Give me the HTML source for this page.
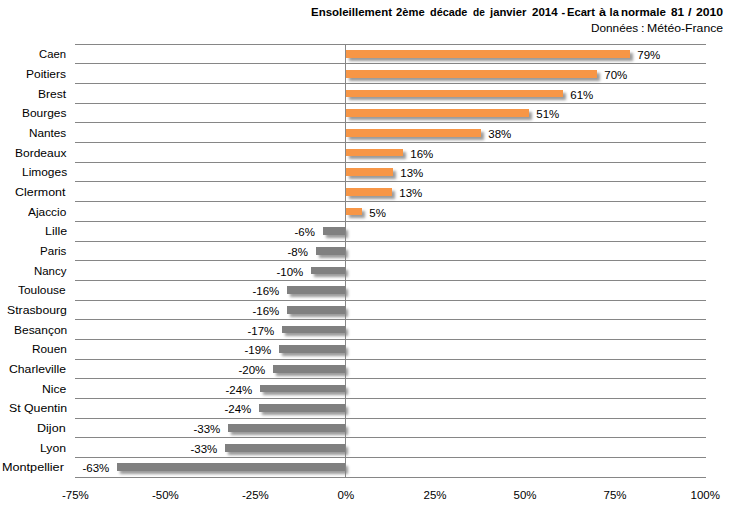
<!DOCTYPE html>
<html><head><meta charset="utf-8"><style>
html,body{margin:0;padding:0;background:#fff;}
body{width:729px;height:505px;position:relative;overflow:hidden;font-family:"Liberation Sans",sans-serif;color:#000;}
.g{position:absolute;left:75px;width:631px;height:1px;background:#868686;}
.ax{position:absolute;left:345px;width:1px;background:#868686;}
.bar{position:absolute;box-shadow:3px 3px 3px rgba(0,0,0,0.4);}
.bp{background:#F79646;}
.bn{background:#808080;}
.t{position:absolute;line-height:20px;white-space:nowrap;transform-origin:0 0;}
</style></head><body>
<div class="g" style="top:44px"></div>
<div class="g" style="top:63px"></div>
<div class="g" style="top:83px"></div>
<div class="g" style="top:103px"></div>
<div class="g" style="top:122px"></div>
<div class="g" style="top:142px"></div>
<div class="g" style="top:162px"></div>
<div class="g" style="top:181px"></div>
<div class="g" style="top:201px"></div>
<div class="g" style="top:221px"></div>
<div class="g" style="top:241px"></div>
<div class="g" style="top:260px"></div>
<div class="g" style="top:280px"></div>
<div class="g" style="top:300px"></div>
<div class="g" style="top:319px"></div>
<div class="g" style="top:339px"></div>
<div class="g" style="top:359px"></div>
<div class="g" style="top:378px"></div>
<div class="g" style="top:398px"></div>
<div class="g" style="top:418px"></div>
<div class="g" style="top:437px"></div>
<div class="g" style="top:457px"></div>
<div class="g" style="top:477px"></div>
<div class="bar bp" style="left:346px;top:50px;width:284px;height:8px"></div>
<div class="bar bp" style="left:346px;top:70px;width:251px;height:8px"></div>
<div class="bar bp" style="left:346px;top:90px;width:217px;height:7px"></div>
<div class="bar bp" style="left:346px;top:109px;width:183px;height:8px"></div>
<div class="bar bp" style="left:346px;top:129px;width:135px;height:8px"></div>
<div class="bar bp" style="left:346px;top:149px;width:57px;height:7px"></div>
<div class="bar bp" style="left:346px;top:168px;width:47px;height:8px"></div>
<div class="bar bp" style="left:346px;top:188px;width:46px;height:8px"></div>
<div class="bar bp" style="left:346px;top:208px;width:16px;height:7px"></div>
<div class="bar bn" style="left:323px;top:227px;width:22px;height:8px"></div>
<div class="bar bn" style="left:316px;top:247px;width:29px;height:8px"></div>
<div class="bar bn" style="left:311px;top:267px;width:34px;height:7px"></div>
<div class="bar bn" style="left:287px;top:286px;width:58px;height:8px"></div>
<div class="bar bn" style="left:287px;top:306px;width:58px;height:8px"></div>
<div class="bar bn" style="left:282px;top:326px;width:63px;height:7px"></div>
<div class="bar bn" style="left:279px;top:345px;width:66px;height:8px"></div>
<div class="bar bn" style="left:273px;top:365px;width:72px;height:8px"></div>
<div class="bar bn" style="left:260px;top:385px;width:85px;height:7px"></div>
<div class="bar bn" style="left:259px;top:404px;width:86px;height:8px"></div>
<div class="bar bn" style="left:228px;top:424px;width:117px;height:8px"></div>
<div class="bar bn" style="left:225px;top:444px;width:120px;height:8px"></div>
<div class="bar bn" style="left:117px;top:463px;width:228px;height:8px"></div>
<div class="ax" style="top:44px;height:434px"></div>
<div class="t" style="left:637.30px;top:45px;font-size:11.5px;">79%</div>
<div class="t" style="left:39.38px;top:44px;font-size:11px;transform:scaleX(1.0240);">Caen</div>
<div class="t" style="left:604.30px;top:65px;font-size:11.5px;">70%</div>
<div class="t" style="left:25.71px;top:64px;font-size:11px;transform:scaleX(1.0889);">Poitiers</div>
<div class="t" style="left:570.30px;top:85px;font-size:11.5px;">61%</div>
<div class="t" style="left:37.50px;top:84px;font-size:11px;transform:scaleX(1.0960);">Brest</div>
<div class="t" style="left:536.30px;top:104px;font-size:11.5px;">51%</div>
<div class="t" style="left:21.51px;top:103px;font-size:11px;transform:scaleX(1.0850);">Bourges</div>
<div class="t" style="left:488.30px;top:124px;font-size:11.5px;">38%</div>
<div class="t" style="left:28.63px;top:123px;font-size:11px;transform:scaleX(1.0676);">Nantes</div>
<div class="t" style="left:410.30px;top:144px;font-size:11.5px;">16%</div>
<div class="t" style="left:14.71px;top:143px;font-size:11px;transform:scaleX(1.0913);">Bordeaux</div>
<div class="t" style="left:400.30px;top:163px;font-size:11.5px;">13%</div>
<div class="t" style="left:21.51px;top:162px;font-size:11px;transform:scaleX(1.0850);">Limoges</div>
<div class="t" style="left:399.30px;top:183px;font-size:11.5px;">13%</div>
<div class="t" style="left:15.17px;top:182px;font-size:11px;transform:scaleX(1.1295);">Clermont</div>
<div class="t" style="left:369.30px;top:203px;font-size:11.5px;">5%</div>
<div class="t" style="left:28.20px;top:202px;font-size:11px;transform:scaleX(1.0800);">Ajaccio</div>
<div class="t" style="left:294.50px;top:222px;font-size:11.5px;">-6%</div>
<div class="t" style="left:44.57px;top:221px;font-size:11px;transform:scaleX(1.1278);">Lille</div>
<div class="t" style="left:287.50px;top:242px;font-size:11.5px;">-8%</div>
<div class="t" style="left:39.75px;top:241px;font-size:11px;transform:scaleX(1.0500);">Paris</div>
<div class="t" style="left:276.50px;top:262px;font-size:11.5px;">-10%</div>
<div class="t" style="left:33.76px;top:261px;font-size:11px;transform:scaleX(1.0400);">Nancy</div>
<div class="t" style="left:252.50px;top:281px;font-size:11.5px;">-16%</div>
<div class="t" style="left:18.40px;top:280px;font-size:11px;transform:scaleX(1.0818);">Toulouse</div>
<div class="t" style="left:252.50px;top:301px;font-size:11.5px;">-16%</div>
<div class="t" style="left:6.99px;top:300px;font-size:11px;transform:scaleX(1.1135);">Strasbourg</div>
<div class="t" style="left:247.50px;top:321px;font-size:11.5px;">-17%</div>
<div class="t" style="left:13.81px;top:320px;font-size:11px;transform:scaleX(1.0872);">Besançon</div>
<div class="t" style="left:244.50px;top:340px;font-size:11.5px;">-19%</div>
<div class="t" style="left:31.63px;top:339px;font-size:11px;transform:scaleX(1.0742);">Rouen</div>
<div class="t" style="left:238.50px;top:360px;font-size:11.5px;">-20%</div>
<div class="t" style="left:9.39px;top:359px;font-size:11px;transform:scaleX(1.1100);">Charleville</div>
<div class="t" style="left:225.50px;top:380px;font-size:11.5px;">-24%</div>
<div class="t" style="left:41.70px;top:379px;font-size:11px;transform:scaleX(1.1048);">Nice</div>
<div class="t" style="left:224.50px;top:399px;font-size:11.5px;">-24%</div>
<div class="t" style="left:8.98px;top:398px;font-size:11px;transform:scaleX(1.1180);">St Quentin</div>
<div class="t" style="left:193.50px;top:419px;font-size:11.5px;">-33%</div>
<div class="t" style="left:37.46px;top:418px;font-size:11px;transform:scaleX(1.1417);">Dijon</div>
<div class="t" style="left:190.50px;top:439px;font-size:11.5px;">-33%</div>
<div class="t" style="left:40.49px;top:438px;font-size:11px;transform:scaleX(1.1091);">Lyon</div>
<div class="t" style="left:82.50px;top:458px;font-size:11.5px;">-63%</div>
<div class="t" style="left:2.08px;top:457px;font-size:11px;transform:scaleX(1.1500);">Montpellier</div>
<div class="t" style="left:62.00px;top:485px;font-size:11.5px;">-75%</div>
<div class="t" style="left:152.00px;top:485px;font-size:11.5px;">-50%</div>
<div class="t" style="left:242.00px;top:485px;font-size:11.5px;">-25%</div>
<div class="t" style="left:337.50px;top:485px;font-size:11.5px;">0%</div>
<div class="t" style="left:423.50px;top:485px;font-size:11.5px;">25%</div>
<div class="t" style="left:513.50px;top:485px;font-size:11.5px;">50%</div>
<div class="t" style="left:603.50px;top:485px;font-size:11.5px;">75%</div>
<div class="t" style="left:690.50px;top:485px;font-size:11.5px;">100%</div>
<div class="t" style="left:311.06px;top:2px;font-size:11px;font-weight:bold;transform:scaleX(1.0429);">Ensoleillement</div>
<div class="t" style="left:396.00px;top:2px;font-size:11px;font-weight:bold;transform:scaleX(1.0179);">2ème</div>
<div class="t" style="left:430.30px;top:2px;font-size:11px;font-weight:bold;transform:scaleX(0.9868);">décade</div>
<div class="t" style="left:473.12px;top:2px;font-size:11px;font-weight:bold;transform:scaleX(0.9200);">de</div>
<div class="t" style="left:489.60px;top:2px;font-size:11px;font-weight:bold;transform:scaleX(1.0278);">janvier</div>
<div class="t" style="left:531.80px;top:2px;font-size:11px;font-weight:bold;transform:scaleX(1.0480);">2014</div>
<div class="t" style="left:561.60px;top:2px;font-size:11px;font-weight:bold;">-</div>
<div class="t" style="left:566.78px;top:2px;font-size:11px;font-weight:bold;transform:scaleX(1.0154);">Ecart</div>
<div class="t" style="left:599.10px;top:2px;font-size:11px;font-weight:bold;transform:scaleX(1.1500);">à</div>
<div class="t" style="left:609.60px;top:2px;font-size:11px;font-weight:bold;">la</div>
<div class="t" style="left:621.45px;top:2px;font-size:11px;font-weight:bold;transform:scaleX(1.0500);">normale</div>
<div class="t" style="left:671.00px;top:2px;font-size:11px;font-weight:bold;transform:scaleX(1.0667);">81</div>
<div class="t" style="left:688.32px;top:2px;font-size:11px;font-weight:bold;transform:scaleX(1.1500);">/</div>
<div class="t" style="left:696.30px;top:2px;font-size:11px;font-weight:bold;transform:scaleX(1.1083);">2010</div>
<div class="t" style="left:590.83px;top:18px;font-size:11px;transform:scaleX(1.0698);">Données</div>
<div class="t" style="left:640.87px;top:18px;font-size:11px;transform:scaleX(1.1500);">:</div>
<div class="t" style="left:646.69px;top:18px;font-size:11px;transform:scaleX(1.1119);">Météo-France</div>
</body></html>
